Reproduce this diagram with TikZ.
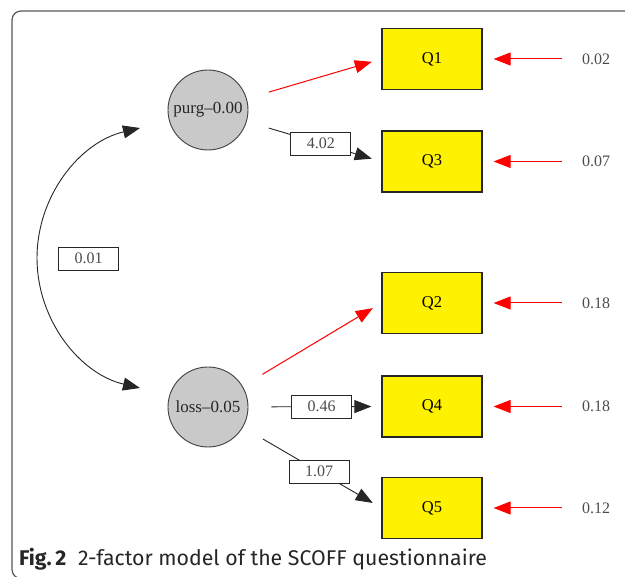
\documentclass[tikz,border=0pt]{standalone}
\usepackage{fontspec}
\setmainfont{Liberation Serif}
\newfontfamily\capfont{Fira Sans}
\usetikzlibrary{arrows.meta}
\begin{document}
\begin{tikzpicture}[x=1pt,y=-1pt,
  lat/.style={circle, draw=black!75, fill=black!21, line width=0.9pt, minimum size=80pt, inner sep=0pt, text=black!85, font=\fontsize{17}{19}\selectfont},
  obs/.style={rectangle, draw=black!85, fill=yellow, line width=1.2pt, minimum width=100pt, minimum height=61pt, inner sep=0pt, font=\fontsize{16.5}{19}\selectfont},
  lbl/.style={rectangle, draw=black!85, fill=white, line width=0.9pt, minimum width=60pt, minimum height=23pt, inner sep=0pt, text=black!70, font=\fontsize{16}{19}\selectfont},
  err/.style={inner sep=0pt, text=black!70, font=\fontsize{16}{19}\selectfont},
  blk/.style={draw=black!85, line width=0.9pt, -{Triangle[length=17pt,width=13pt]}},
  rd/.style={draw=red, line width=1pt, -{Triangle[length=17pt,width=13pt]}},
  load/.style={shorten <=23pt, shorten >=10pt},
  errarr/.style={rd, shorten <=20pt, shorten >=11pt},
  covarr/.style={draw=black!85, line width=0.9pt, {Triangle[length=17pt,width=13pt]}-{Triangle[length=17pt,width=13pt]}}
]
\clip (0,0) rectangle (625,577);
\fill[white] (0,0) rectangle (625,577);
% frame
\draw[black!65, line width=1.2pt, rounded corners=9pt] (660,11) -- (12,11) -- (12,578.5) -- (660,578.5);

% latent variables
\node[lat] (purg) at (208,110) {purg–0.00};
\node[lat] (loss) at (208,407) {loss–0.05};

% observed variables
\node[obs] (Q1) at (432,59) {Q1};
\node[obs] (Q3) at (432,161.5) {Q3};
\node[obs] (Q2) at (432,303) {Q2};
\node[obs] (Q4) at (432,406.5) {Q4};
\node[obs] (Q5) at (432,508) {Q5};

% error terms
\node[err] (e1) at (596,59) {0.02};
\node[err] (e3) at (596,161.5) {0.07};
\node[err] (e2) at (596,303) {0.18};
\node[err] (e4) at (596,406.5) {0.18};
\node[err] (e5) at (596,508) {0.12};

% loadings
\draw[rd, load] (purg) -- (Q1.west);
\draw[blk, load] (purg) -- node[lbl, pos=0.55] (l3) {4.02} (Q3.west);
\draw[rd, load] (loss) -- (Q2.west);
\draw[blk, load] (loss) -- node[lbl, pos=0.55] (l4) {0.46} (Q4.west);
\draw[blk, load] (loss) -- node[lbl, pos=0.55] (l5) {1.07} (Q5.west);

% error arrows
\draw[errarr] (e1) -- (Q1);
\draw[errarr] (e3) -- (Q3);
\draw[errarr] (e2) -- (Q2);
\draw[errarr] (e4) -- (Q4);
\draw[errarr] (e5) -- (Q5);

% covariance
\coordinate (ct) at (140,128);
\coordinate (cl) at (37,258);
\coordinate (cb) at (140,388);
\draw[covarr] (ct) .. controls (79.6,142.2) and (37,196) .. (cl) .. controls (37,320) and (79.6,373.8) .. (cb);
\node[lbl] (cov) at (88.5,258.5) {0.01};

% caption
\node[anchor=base west, inner sep=0pt, text=black!85, font=\capfont\fontsize{21.3}{24}\selectfont] (cap) at (19,565.5) {\textbf{Fig.\,2}\hspace{0.55em}2-factor model of the SCOFF questionnaire};
\end{tikzpicture}
\end{document}
